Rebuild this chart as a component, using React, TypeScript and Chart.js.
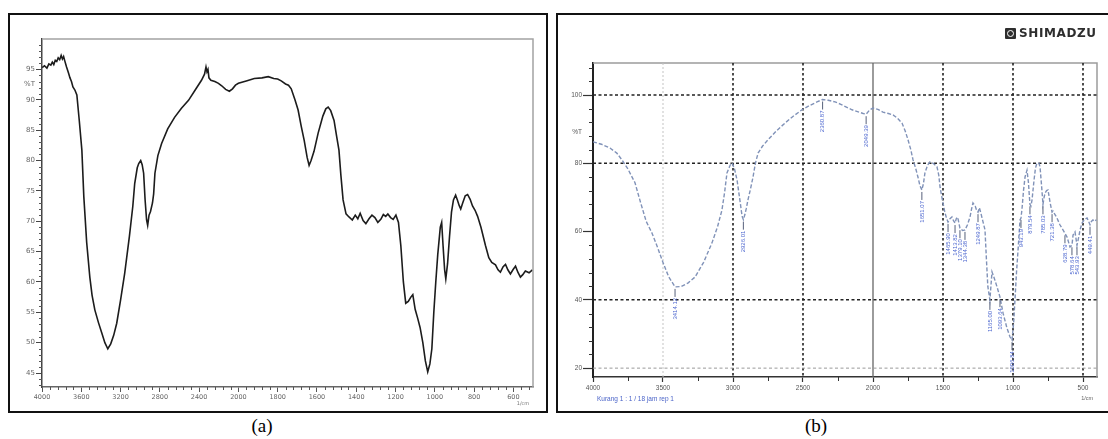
import React, { useEffect, useRef } from "react";
import { Chart, registerables } from "chart.js";

Chart.register(...registerables);

// ---------- Spectrum (a) ----------
const aWavenumber = [
  3998, 3975, 3950, 3930, 3910, 3895, 3880, 3865, 3850, 3835, 3820, 3805, 3792, 3780, 3768, 3750, 3730, 3715, 3700, 3685,
  3665, 3645, 3620, 3594, 3574, 3545, 3513, 3490, 3462, 3425, 3391, 3360, 3330, 3300, 3270, 3239, 3200, 3158, 3110, 3075,
  3056, 3030, 3015, 2995, 2980, 2965, 2950, 2935, 2924, 2910, 2895, 2875, 2863, 2850, 2820, 2782, 2720, 2650, 2580, 2508,
  2440, 2376, 2345, 2330, 2320, 2310, 2300, 2280, 2240, 2203, 2170, 2130, 2092, 2060, 2030, 2000, 1960, 1919, 1880, 1848,
  1820, 1800, 1782, 1760, 1745, 1731, 1712, 1696, 1680, 1665, 1650, 1640, 1630, 1615, 1594, 1570, 1555, 1543, 1530, 1513,
  1500, 1488, 1478, 1467, 1452, 1437, 1420, 1405, 1392, 1380, 1365, 1351, 1335, 1320, 1305, 1290, 1275, 1262, 1250, 1239,
  1225, 1212, 1198, 1185, 1173, 1160, 1148, 1135, 1122, 1112, 1100, 1087, 1075, 1061, 1048, 1036, 1025, 1015, 1005, 995,
  985, 972, 965, 958, 950, 944, 935, 925, 915, 905, 894, 885, 876, 868, 858, 845, 833, 820, 808, 795,
  782, 765, 742, 725, 710, 691, 678, 666, 652, 640, 628, 615, 602, 589, 577, 564, 552, 539, 520, 503,
];
const aTransmittance = [
  95.3, 95.6, 95.2, 95.9, 95.7, 96.2, 95.8, 96.5, 96.3, 96.9, 96.6, 97.3, 96.7, 97.1, 96.4, 95.4, 94.4, 93.6, 93.0, 92.1,
  91.6, 90.8, 86.5, 81.7, 74.0, 66.5, 60.8, 57.8, 55.4, 53.3, 51.6, 50.0, 49.0, 49.8, 51.2, 53.2, 57.0, 61.4, 67.5, 72.5,
  76.2, 78.8, 79.5, 80.0, 79.3, 77.9, 73.5, 70.2, 69.3, 71.0, 71.6, 73.0, 74.5, 77.9, 80.8, 82.8, 85.2, 87.1, 88.6, 89.9,
  91.6, 93.2, 94.2, 95.4, 94.6, 95.0, 93.6, 93.2, 93.0, 92.7, 92.3, 91.7, 91.4, 91.8, 92.4, 92.7, 93.1, 93.5, 93.6, 93.8,
  93.5, 93.4, 93.1, 92.6, 92.4, 91.8, 90.0, 88.3, 85.6, 83.3, 80.5, 79.2, 80.0, 81.5, 84.5, 87.3, 88.5, 88.8, 88.2, 86.6,
  84.0, 81.7, 77.5, 73.5, 71.2, 70.7, 70.2, 71.0, 70.4, 71.3, 70.1, 69.6, 70.4, 71.0, 70.6, 69.8, 70.3, 71.1, 70.8, 71.2,
  70.6, 70.3, 71.0, 69.8, 66.0, 60.0, 56.5, 56.8, 57.5, 57.9, 55.5, 54.0, 52.5, 50.0, 47.0, 45.2, 46.5, 49.0, 55.0, 60.0,
  64.5, 69.0, 69.8, 66.0, 62.0, 60.5, 63.0, 67.5, 71.5, 73.5, 74.3, 73.5, 72.6, 72.0, 73.0, 74.2, 74.4, 73.6, 72.5, 71.8,
  70.8, 69.0, 66.0, 64.0, 63.2, 62.8, 62.0, 61.6, 62.5, 62.9, 62.0, 61.3, 62.0, 62.6, 61.6, 60.8, 61.2, 61.8, 61.5, 62.0,
];
const aXTickWavenumbers = [4000, 3600, 3200, 2800, 2400, 2000, 1800, 1600, 1400, 1200, 1000, 800, 600];
const aYTicks = [45, 50, 55, 60, 65, 70, 75, 80, 85, 90, 95];
const aYTitleValue = 92.5;

// ---------- Spectrum (b) ----------
const bWavenumber = [
  4000, 3940, 3879, 3830, 3793, 3750, 3700, 3660, 3620, 3579, 3540, 3507, 3460, 3414, 3370, 3320, 3271, 3210, 3150, 3110,
  3079, 3060, 3043, 3020, 3007, 2990, 2971, 2950, 2935, 2926, 2915, 2905, 2893, 2875, 2857, 2840, 2821, 2790, 2750, 2690,
  2629, 2570, 2507, 2450, 2400, 2360, 2320, 2271, 2230, 2190, 2150, 2100, 2070, 2049, 2025, 2000, 1965, 1929, 1890, 1857,
  1825, 1793, 1770, 1750, 1730, 1714, 1695, 1679, 1665, 1651, 1640, 1629, 1610, 1593, 1570, 1543, 1530, 1521, 1510, 1500,
  1486, 1475, 1464, 1450, 1436, 1425, 1414, 1405, 1395, 1379, 1360, 1343, 1325, 1307, 1295, 1286, 1270, 1258, 1250, 1240,
  1230, 1215, 1200, 1190, 1180, 1165, 1150, 1135, 1114, 1093, 1071, 1043, 1021, 1007, 995, 986, 975, 964, 950, 943,
  936, 925, 914, 900, 890, 879, 872, 864, 850, 840, 829, 815, 807, 796, 786, 778, 771, 760, 750, 735,
  721, 714, 700, 686, 665, 643, 629, 614, 593, 579, 571, 557, 543, 530, 521, 507, 490, 471, 460, 450,
  440, 429, 414, 405,
];
const bTransmittance = [
  86.3, 85.6, 84.5, 83.0, 81.0, 78.3, 74.3, 68.5, 63.0, 59.6, 55.5, 51.7, 46.8, 43.8, 43.9, 45.0, 46.7, 51.0, 56.7, 61.5,
  66.3, 71.5, 77.2, 79.5, 80.1, 78.5, 75.1, 69.0, 64.5, 63.5, 65.0, 66.8, 69.3, 72.5, 76.0, 80.0, 83.0, 85.0, 86.9, 89.5,
  91.8, 93.8, 95.7, 97.0, 98.0, 98.7, 98.5, 98.0, 97.3, 96.5, 95.7, 95.0, 94.6, 94.4, 95.6, 96.2, 95.8, 95.0, 94.6, 94.2,
  93.2, 91.8, 89.5, 86.9, 84.0, 81.0, 78.5, 76.0, 73.5, 72.2, 74.0, 77.2, 79.5, 80.4, 80.0, 79.0, 76.5, 73.0, 70.5, 68.4,
  65.5, 64.0, 62.8, 63.8, 64.3, 63.2, 62.5, 63.8, 64.2, 61.0, 60.3, 60.5, 62.0, 64.3, 66.8, 68.4, 67.5, 66.0, 65.7, 67.0,
  65.5, 63.0, 60.5, 52.0, 44.0, 40.0, 48.2, 46.5, 43.8, 40.8, 36.1, 31.7, 29.1, 28.2, 33.5, 40.0, 48.0, 54.6, 63.4, 64.0,
  66.5, 72.0, 76.0, 78.0, 74.5, 68.0, 67.5, 69.3, 75.0, 78.5, 80.1, 80.0, 79.0, 73.5, 68.0, 70.0, 71.3, 72.0, 72.2, 68.5,
  65.7, 66.0, 65.0, 64.0, 62.0, 60.5, 59.5, 58.4, 55.5, 56.0, 59.0, 59.9, 56.0, 58.5, 60.5, 62.5, 63.5, 64.0, 63.0, 62.0,
  63.0, 63.4, 63.0, 63.5,
];
const bXTicks = [4000, 3500, 3000, 2500, 2000, 1500, 1000, 500];
const bYTicks = [20, 40, 60, 80, 100];
const bYTitleValue = 89;
const bPeakWavenumber = [3414, 2926, 2360, 2049, 1651, 1464, 1414, 1379, 1343, 1250, 1165, 1093, 1007, 943, 879, 786, 721, 629, 579, 543, 450];
const bPeakTransmittance = [43.8, 63.5, 98.7, 94.4, 72.2, 62.8, 62.5, 61.0, 60.5, 65.7, 40.0, 40.8, 28.2, 64.0, 68.0, 68.0, 65.7, 59.5, 56.0, 56.0, 62.0];
const bPeakLabels = [
  "3414.12", "2926.01", "2360.87", "2049.39", "1651.07", "1465.90", "1413.82", "1379.10", "1344.38", "1249.87",
  "1165.00", "1093.64", "1006.84", "943.19", "879.54", "785.03", "721.38", "628.79", "578.64", "543.93", "449.41",
];
const bDarkGridX = [3000, 2500, 1500, 1000, 500];
const bLightGridX = [3500];
const bSolidGridX = [2000];
const bDarkGridY = [100, 80, 40];
const bLightGridY = [20];

// piecewise wavenumber axis of (a): 4000-2000 at one scale, 2000-500 stretched 2x
const toAxisA = (wn: number) => (wn >= 2000 ? 4000 - wn : 2000 + (2000 - wn) * 2);
const fromAxisA = (u: number) => (u <= 2000 ? 4000 - u : 2000 - (u - 2000) / 2);

const CLEAR = "rgba(0,0,0,0)";

function SpectrumA() {
  const ref = useRef<HTMLCanvasElement>(null);
  useEffect(() => {
    const decor = {
      id: "decorA",
      afterDraw(chart: any) {
        const { ctx, chartArea: ca, scales } = chart;
        const x = scales.x;
        const y = scales.y;
        ctx.save();
        ctx.strokeStyle = "#a3a3a3";
        ctx.lineWidth = 1.5;
        ctx.beginPath();
        ctx.moveTo(ca.left, ca.top);
        ctx.lineTo(ca.right, ca.top);
        ctx.lineTo(ca.right, ca.bottom);
        ctx.stroke();
        ctx.strokeStyle = "#555";
        ctx.lineWidth = 1;
        ctx.beginPath();
        for (let u = 80; u < 5000; u += 80) {
          if (u % 400 === 0) continue;
          const px = Math.round(x.getPixelForValue(u)) + 0.5;
          ctx.moveTo(px, ca.bottom);
          ctx.lineTo(px, ca.bottom + 3);
        }
        for (let t = 43; t < 100; t++) {
          if (t % 5 === 0) continue;
          const py = Math.round(y.getPixelForValue(t)) + 0.5;
          ctx.moveTo(ca.left - 3, py);
          ctx.lineTo(ca.left, py);
        }
        ctx.stroke();
        ctx.fillStyle = "#777";
        ctx.font = '5px "DejaVu Sans"';
        ctx.textAlign = "center";
        ctx.fillText("1/cm", ca.right - 10, ca.bottom + 18);
        ctx.restore();
      },
    };
    const chart = new Chart(ref.current as HTMLCanvasElement, {
      type: "line",
      data: {
        datasets: [
          {
            data: aWavenumber.map((w, i) => ({ x: toAxisA(w), y: aTransmittance[i] })),
            borderColor: "#1c1c1c",
            borderWidth: 1.6,
            pointRadius: 0,
            tension: 0,
            fill: false,
          },
        ],
      },
      options: {
        responsive: false,
        animation: false,
        devicePixelRatio: 1,
        events: [],
        layout: { padding: { left: 0, right: 12, top: 24, bottom: 0 } },
        plugins: { legend: { display: false }, tooltip: { enabled: false } },
        scales: {
          x: {
            type: "linear",
            min: 0,
            max: 5000,
            afterBuildTicks: (s: any) => {
              s.ticks = aXTickWavenumbers.map((w) => ({ value: toAxisA(w) }));
            },
            afterFit: (s: any) => {
              s.height = 23;
            },
            ticks: {
              autoSkip: false,
              maxRotation: 0,
              padding: 1,
              color: "#666",
              font: { family: "DejaVu Sans", size: 6.5 },
              callback: (v: any) => String(Math.round(fromAxisA(Number(v)))),
            },
            grid: { drawOnChartArea: false, drawTicks: true, tickLength: 5, tickColor: "#555", tickWidth: 1 },
            border: { display: true, color: "#666", width: 1.5 },
          },
          y: {
            type: "linear",
            min: 42.7,
            max: 100,
            afterBuildTicks: (s: any) => {
              s.ticks = [...aYTicks, aYTitleValue].sort((p, q) => p - q).map((v) => ({ value: v }));
            },
            afterFit: (s: any) => {
              s.width = 32;
            },
            ticks: {
              autoSkip: false,
              padding: 1,
              color: "#666",
              font: { family: "DejaVu Sans", size: 7 },
              callback: (v: any) => (Number(v) === aYTitleValue ? "%T" : String(v)),
            },
            grid: {
              drawOnChartArea: false,
              tickLength: 6,
              tickColor: (c: any) => (c.tick && c.tick.value === aYTitleValue ? CLEAR : "#444"),
            },
            border: { display: true, color: "#444", width: 1.5 },
          },
        },
      },
      plugins: [decor],
    } as any);
    return () => chart.destroy();
  }, []);
  return <canvas ref={ref} width={535} height={395} style={{ position: "absolute", left: 10, top: 15, width: 535, height: 395 }} />;
}

function SpectrumB() {
  const ref = useRef<HTMLCanvasElement>(null);
  useEffect(() => {
    const decor = {
      id: "decorB",
      beforeDatasetsDraw(chart: any) {
        const { ctx, chartArea: ca, scales } = chart;
        const x = scales.x;
        const y = scales.y;
        ctx.save();
        // frame
        ctx.strokeStyle = "#9c9c9c";
        ctx.lineWidth = 1.5;
        ctx.setLineDash([]);
        ctx.beginPath();
        ctx.moveTo(ca.left, ca.top);
        ctx.lineTo(ca.right, ca.top);
        ctx.lineTo(ca.right, ca.bottom);
        ctx.stroke();
        const vline = (w: number, color: string, lw: number, dash: number[]) => {
          const px = x.getPixelForValue(w);
          ctx.strokeStyle = color;
          ctx.lineWidth = lw;
          ctx.setLineDash(dash);
          ctx.beginPath();
          ctx.moveTo(px, ca.top);
          ctx.lineTo(px, ca.bottom);
          ctx.stroke();
        };
        const hline = (t: number, color: string, lw: number, dash: number[]) => {
          const py = y.getPixelForValue(t);
          ctx.strokeStyle = color;
          ctx.lineWidth = lw;
          ctx.setLineDash(dash);
          ctx.beginPath();
          ctx.moveTo(ca.left, py);
          ctx.lineTo(ca.right, py);
          ctx.stroke();
        };
        bLightGridX.forEach((w) => vline(w, "#c4c4c4", 1, [2, 2]));
        bSolidGridX.forEach((w) => vline(w, "#666", 1.3, []));
        bDarkGridX.forEach((w) => vline(w, "#222", 1.6, [2.5, 2.5]));
        bDarkGridY.forEach((t) => hline(t, "#222", 1.5, [3, 2.5]));
        bLightGridY.forEach((t) => hline(t, "#9a9a9a", 1, [3, 2.5]));
        ctx.restore();
      },
      afterDatasetsDraw(chart: any) {
        const { ctx, scales } = chart;
        const x = scales.x;
        const y = scales.y;
        ctx.save();
        ctx.font = '6px "Liberation Sans"';
        ctx.textAlign = "right";
        ctx.textBaseline = "middle";
        bPeakWavenumber.forEach((w, i) => {
          const px = x.getPixelForValue(w);
          const py = y.getPixelForValue(bPeakTransmittance[i]);
          ctx.strokeStyle = "#56607a";
          ctx.lineWidth = 1;
          ctx.beginPath();
          ctx.moveTo(px, py + 2);
          ctx.lineTo(px, py + 10);
          ctx.stroke();
          ctx.save();
          ctx.translate(px, py + 11);
          ctx.rotate(-Math.PI / 2);
          ctx.fillStyle = "#4d67cf";
          ctx.fillText(bPeakLabels[i], 0, 0);
          ctx.restore();
        });
        ctx.restore();
      },
      afterDraw(chart: any) {
        const { ctx, chartArea: ca, scales } = chart;
        const x = scales.x;
        const y = scales.y;
        ctx.save();
        ctx.strokeStyle = "#333";
        ctx.lineWidth = 1;
        ctx.beginPath();
        for (let w = 3750; w > 400; w -= 250) {
          if (w % 500 === 0) continue;
          const px = Math.round(x.getPixelForValue(w)) + 0.5;
          ctx.moveTo(px, ca.bottom);
          ctx.lineTo(px, ca.bottom + 4);
        }
        for (let t = 24; t < 110; t += 4) {
          if (t % 20 === 0) continue;
          const py = Math.round(y.getPixelForValue(t)) + 0.5;
          ctx.moveTo(ca.left - 4, py);
          ctx.lineTo(ca.left, py);
        }
        ctx.stroke();
        ctx.fillStyle = "#666";
        ctx.font = '5.5px "Liberation Sans"';
        ctx.textAlign = "center";
        ctx.fillText("1/cm", x.getPixelForValue(470), ca.bottom + 23);
        ctx.fillStyle = "#4a63c8";
        ctx.textAlign = "left";
        ctx.font = '6.5px "Liberation Sans"';
        ctx.fillText("Kurang 1 : 1 / 18 jam rep 1", ca.left + 4, ca.bottom + 24);
        ctx.restore();
      },
    };
    const chart = new Chart(ref.current as HTMLCanvasElement, {
      type: "line",
      data: {
        datasets: [
          {
            data: bWavenumber.map((w, i) => ({ x: w, y: bTransmittance[i] })),
            borderColor: "#8092b8",
            borderWidth: 1.4,
            borderDash: [4, 2],
            pointRadius: 0,
            tension: 0,
            fill: false,
          },
        ],
      },
      options: {
        responsive: false,
        animation: false,
        devicePixelRatio: 1,
        events: [],
        layout: { padding: { left: 0, right: 11, top: 48, bottom: 0 } },
        plugins: { legend: { display: false }, tooltip: { enabled: false } },
        scales: {
          x: {
            type: "linear",
            reverse: true,
            min: 400,
            max: 4000,
            afterBuildTicks: (s: any) => {
              s.ticks = bXTicks.map((v) => ({ value: v }));
            },
            afterFit: (s: any) => {
              s.height = 33;
            },
            ticks: {
              autoSkip: false,
              maxRotation: 0,
              padding: 2,
              color: "#555",
              font: { family: "Liberation Sans", size: 6.5 },
              callback: (v: any) => String(v),
            },
            grid: { drawOnChartArea: false, tickLength: 5, tickColor: "#333", tickWidth: 1.2 },
            border: { display: true, color: "#333", width: 1.6 },
          },
          y: {
            type: "linear",
            min: 17.4,
            max: 109.4,
            afterBuildTicks: (s: any) => {
              s.ticks = [...bYTicks, bYTitleValue].sort((p, q) => p - q).map((v) => ({ value: v }));
            },
            afterFit: (s: any) => {
              s.width = 35;
            },
            ticks: {
              autoSkip: false,
              padding: 1,
              color: "#555",
              font: { family: "Liberation Sans", size: 6.5 },
              callback: (v: any) => (Number(v) === bYTitleValue ? "%T" : String(v)),
            },
            grid: {
              drawOnChartArea: false,
              tickLength: 10,
              tickWidth: 1.2,
              tickColor: (c: any) => (c.tick && c.tick.value === bYTitleValue ? CLEAR : "#333"),
            },
            border: { display: true, color: "#222", width: 2 },
          },
        },
      },
      plugins: [decor],
    } as any);
    return () => chart.destroy();
  }, []);
  return <canvas ref={ref} width={550} height={395} style={{ position: "absolute", left: 558, top: 15, width: 550, height: 395 }} />;
}

export default function App() {
  return (
    <div style={{ position: "absolute", left: 0, top: 0, width: 1108, height: 439, overflow: "hidden", background: "#fff" }}>
      <div style={{ position: "absolute", left: 8, top: 13, width: 540, height: 400, border: "2px solid #111", boxSizing: "border-box" }} />
      <div style={{ position: "absolute", left: 556, top: 13, width: 570, height: 400, border: "2px solid #111", boxSizing: "border-box" }} />
      <SpectrumA />
      <SpectrumB />
      <div style={{ position: "absolute", left: 1005, top: 28, width: 11, height: 11, background: "#2e2e2e", borderRadius: 1 }}>
        <div style={{ position: "absolute", left: 2, top: 2, width: 5, height: 5, border: "1px solid #fff", borderRadius: "50%" }} />
      </div>
      <div style={{ position: "absolute", left: 1019, top: 27, fontFamily: "DejaVu Sans", fontWeight: 700, fontSize: 12, lineHeight: "13px", letterSpacing: 0.6, color: "#2e2e2e" }}>
        SHIMADZU
      </div>
      <div style={{ position: "absolute", left: 240, top: 414, width: 44, textAlign: "center", fontFamily: "Liberation Serif", fontSize: 19, lineHeight: "24px", color: "#000" }}>
        (a)
      </div>
      <div style={{ position: "absolute", left: 794, top: 414, width: 44, textAlign: "center", fontFamily: "Liberation Serif", fontSize: 19, lineHeight: "24px", color: "#000" }}>
        (b)
      </div>
    </div>
  );
}
